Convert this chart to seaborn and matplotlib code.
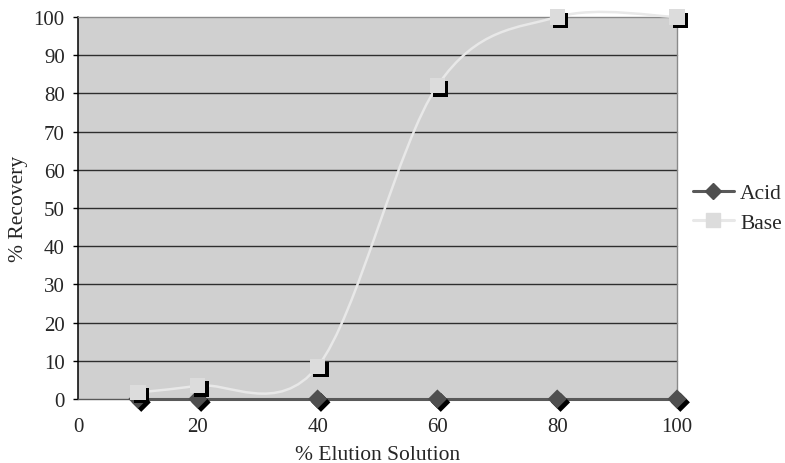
import numpy as np
import pandas as pd
import matplotlib
matplotlib.use("Agg")
import matplotlib.pyplot as plt
from matplotlib.path import Path
from matplotlib.patches import PathPatch
from matplotlib.lines import Line2D
from matplotlib.transforms import ScaledTranslation
import seaborn as sns

# Data
elution = [10, 20, 40, 60, 80, 100]
acid = [0, 0, 0, 0, 0, 0]
base = [1.7, 3.5, 8.5, 82, 100, 100]
x_ticks = [0, 20, 40, 60, 80, 100]
y_ticks = [0, 10, 20, 30, 40, 50, 60, 70, 80, 90, 100]

sns.set_theme(style="white")
plt.rcParams["font.family"] = ["Liberation Serif", "DejaVu Serif"]
plt.rcParams["font.size"] = 15

ACID_LINE = "#595959"
ACID_MARK = "#4f4f4f"
BASE_LINE = "#e8e8e8"
BASE_MARK = "#dcdcdc"
PLOT_BG = "#d0d0d0"

fig = plt.figure(figsize=(7.85, 4.64), dpi=100)
ax = fig.add_axes([78 / 785, 1 - 400 / 464, (677 - 78) / 785, (400 - 18) / 464])
ax.set_facecolor(PLOT_BG)

ax.set_xlim(0, 100)
ax.set_ylim(0, 100)
ax.set_xticks(x_ticks)
ax.set_yticks(y_ticks)

# Horizontal grid lines
for yv in y_ticks[1:-1]:
    ax.axhline(yv, color="#2e2e2e", lw=1.0, zorder=1)

# Spines
for side in ["top", "right"]:
    ax.spines[side].set_color("#8a8a8a")
    ax.spines[side].set_linewidth(1.0)
ax.spines["left"].set_color("black")
ax.spines["left"].set_linewidth(1.1)
ax.spines["bottom"].set_color(ACID_LINE)
ax.spines["bottom"].set_linewidth(1.0)

ax.tick_params(axis="y", direction="out", length=3.6, width=1.0, color="black",
               pad=6, labelsize=15, left=True)
ax.tick_params(axis="x", length=0, pad=13, labelsize=15, bottom=True)

df = pd.DataFrame({"elution": elution, "acid": acid, "base": base})
shadow_dx, shadow_dy = 2.4 / 72, 2.4 / 72


def shadowed_markers(col, marker, size, face, z):
    # dark drop shadow, offset down-right
    sns.scatterplot(data=df, x="elution", y=col, marker=marker, s=size, color="black",
                    edgecolor="none", linewidth=0, ax=ax, zorder=z, clip_on=False, legend=False)
    sh = ax.collections[-1]
    sh.set_offset_transform(ax.transData + ScaledTranslation(shadow_dx, -shadow_dy, fig.dpi_scale_trans))
    sns.scatterplot(data=df, x="elution", y=col, marker=marker, s=size, color=face,
                    edgecolor="none", linewidth=0, ax=ax, zorder=z + 1, clip_on=False, legend=False)


# Acid: straight line with diamond markers
sns.lineplot(data=df, x="elution", y="acid", color=ACID_LINE, lw=2.2, ax=ax,
             zorder=4, legend=False)
for ln in ax.lines:
    ln.set_clip_on(False)
shadowed_markers("acid", "D", 95, ACID_MARK, 5)

# Base: smoothed curve (cubic Bezier segments through the points)
pts = np.column_stack([elution, base]).astype(float)
ext = np.vstack([pts[0], pts, pts[-1]])
verts = [tuple(pts[0])]
codes = [Path.MOVETO]
for i in range(len(pts) - 1):
    p0, p1, p2, p3 = ext[i], ext[i + 1], ext[i + 2], ext[i + 3]
    c1 = p1 + (p2 - p0) / 6.0
    c2 = p2 - (p3 - p1) / 6.0
    verts += [tuple(c1), tuple(c2), tuple(p2)]
    codes += [Path.CURVE4] * 3
curve = PathPatch(Path(verts, codes), fill=False, edgecolor=BASE_LINE, lw=1.8,
                  transform=ax.transData, zorder=7, clip_on=False)
ax.add_patch(curve)
shadowed_markers("base", "s", 120, BASE_MARK, 8)

ax.set_xlabel("% Elution Solution", fontsize=15.5, labelpad=6.5)
ax.set_ylabel("% Recovery", fontsize=15.5, labelpad=4)

handles = [
    Line2D([], [], color=ACID_LINE, lw=2.2, marker="D", markersize=8,
           markerfacecolor=ACID_MARK, markeredgecolor=ACID_MARK),
    Line2D([], [], color=BASE_LINE, lw=2.2, marker="s", markersize=10,
           markerfacecolor=BASE_MARK, markeredgecolor=BASE_MARK),
]
fig.legend(handles, ["Acid", "Base"], loc="center left",
           bbox_to_anchor=(684 / 785, 1 - 209 / 464), frameon=False,
           handlelength=1.9, handletextpad=0.3, labelspacing=0.45, fontsize=15.5,
           borderaxespad=0)

fig.savefig("out.png", dpi=100)
